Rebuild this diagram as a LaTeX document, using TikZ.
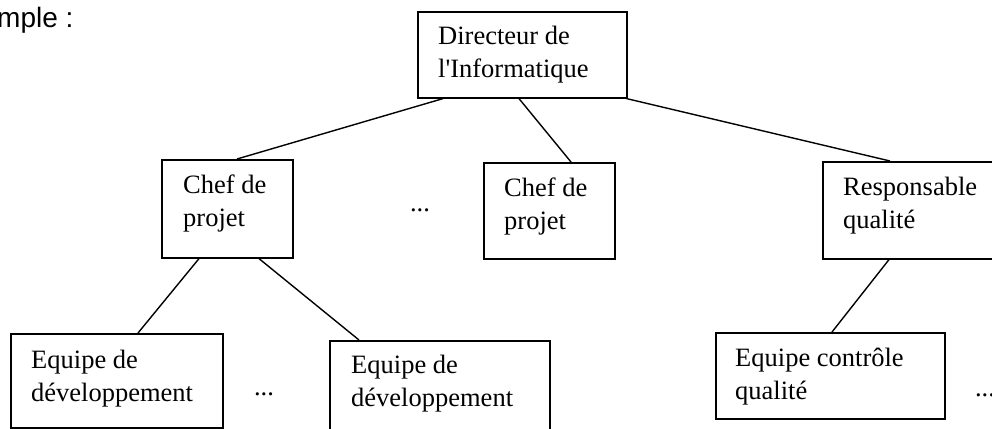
\documentclass[tikz,border=0pt]{standalone}
\usepackage{fontspec}
\setmainfont{Liberation Serif}
\newfontfamily\headfont{Liberation Sans}
\usetikzlibrary{calc}

% two text lines, baseline of the node = baseline of the first line
\newcommand{\twolines}[2]{\vtop{\baselineskip=33pt\hbox{#1}\hbox{#2}}}

\tikzset{
  orgbox/.style={draw, line width=1.6pt, inner sep=0pt, anchor=north west},
  boxtext/.style={inner sep=0pt, anchor=base west,
    font=\fontsize{26.5}{33}\selectfont},
  dots/.style={inner sep=0pt, anchor=base,
    font=\fontsize{26.5}{33}\selectfont},
  link/.style={line width=1.4pt},
}

\begin{document}
\begin{tikzpicture}[x=1pt, y=-1pt]
\useasboundingbox (0,0) rectangle (992,428);

% heading, partly cut by the left margin
\node[inner sep=0pt, anchor=base west, font=\headfont\fontsize{28}{33}\selectfont]
  (heading) at (-3,28) {mple :};

% boxes
\node[orgbox, minimum width=209pt, minimum height=86pt] (dir)   at (417,11) {};
\node[orgbox, minimum width=131pt, minimum height=98pt] (chefA) at (161,159) {};
\node[orgbox, minimum width=131pt, minimum height=96pt] (chefB) at (483,162) {};
\node[orgbox, minimum width=200pt, minimum height=97pt] (resp)  at (822,161) {};
\node[orgbox, minimum width=212pt, minimum height=94pt] (eqA)   at (10,333) {};
\node[orgbox, minimum width=220pt, minimum height=94pt] (eqB)   at (329,340) {};
\node[orgbox, minimum width=229pt, minimum height=86pt] (eqC)   at (715,332) {};

% box texts
\node[boxtext] (dirT)   at ([shift={(21pt,-34pt)}]dir.north west)   {\twolines{Directeur de}{l\textquotesingle Informatique}};
\node[boxtext] (chefAT) at ([shift={(22pt,-34pt)}]chefA.north west) {\twolines{Chef de}{projet}};
\node[boxtext] (chefBT) at ([shift={(21pt,-34pt)}]chefB.north west) {\twolines{Chef de}{projet}};
\node[boxtext] (respT)  at ([shift={(21pt,-34pt)}]resp.north west)  {\twolines{Responsable}{qualité}};
\node[boxtext] (eqAT)   at ([shift={(21pt,-35pt)}]eqA.north west)   {\twolines{Equipe de}{développement}};
\node[boxtext] (eqBT)   at ([shift={(22pt,-33pt)}]eqB.north west)   {\twolines{Equipe de}{développement}};
\node[boxtext] (eqCT)   at ([shift={(20pt,-34pt)}]eqC.north west)   {\twolines{Equipe contrôle}{qualité}};

% ellipses between siblings
\node[dots] (dotsMid)   at (420,211) {...};
\node[dots] (dotsLeft)  at (264,395) {...};
\node[dots] (dotsRight) at (985,396) {...};

% connectors
\draw[link] ([xshift=26pt]dir.south west)   -- ([xshift=76pt]chefA.north west);
\draw[link] ([xshift=102pt]dir.south west)  -- ([xshift=88pt]chefB.north west);
\draw[link] ([xshift=-1pt]dir.south east)   -- ([xshift=68pt]resp.north west);
\draw[link] ([xshift=38pt]chefA.south west) -- ([xshift=128pt]eqA.north west);
\draw[link] ([xshift=98pt]chefA.south west) -- ([xshift=30pt]eqB.north west);
\draw[link] ([xshift=67pt]resp.south west)  -- ([xshift=117pt]eqC.north west);
\end{tikzpicture}
\end{document}
